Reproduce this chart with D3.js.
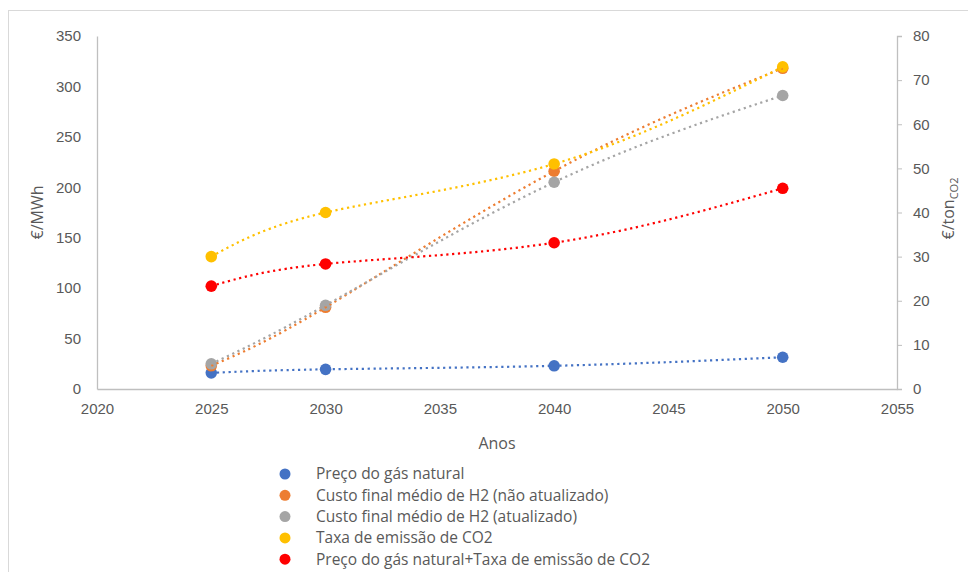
<!DOCTYPE html>
<html>
<head>
<meta charset="utf-8">
<script src="https://cdn.jsdelivr.net/npm/d3@7"></script>
<style>
  html, body { margin: 0; padding: 0; background: #fff; }
  svg { display: block; font-family: "Open Sans", "DejaVu Sans", sans-serif; }
  .tick-label { fill: #595959; font-size: 15px; }
  .axis-title { fill: #595959; font-size: 16px; }
  .legend-text { fill: #595959; font-size: 15.5px; }
</style>
</head>
<body>
<svg id="chart" width="968" height="572"></svg>
<script>
// Years on the horizontal axis
const years = [2025, 2030, 2040, 2050];

// €/MWh series (left axis)
const gasPrice = [16, 19.5, 23, 31.5];
const h2CostNotUpdated = [23, 81, 216, 318];
const h2CostUpdated = [25, 83, 205, 291];
const gasPlusCo2 = [102, 124, 145, 199];

// €/tonCO2 series (right axis)
const co2Tax = [30, 40, 51, 73];

// Axis ticks
const xTicks = [2020, 2025, 2030, 2035, 2040, 2045, 2050, 2055];
const yLeftTicks = [0, 50, 100, 150, 200, 250, 300, 350];
const yRightTicks = [0, 10, 20, 30, 40, 50, 60, 70, 80];

const seriesNames = [
  "Preço do gás natural",
  "Custo final médio de H2 (não atualizado)",
  "Custo final médio de H2 (atualizado)",
  "Taxa de emissão de CO2",
  "Preço do gás natural+Taxa de emissão de CO2"
];
const seriesColors = ["#4472C4", "#ED7D31", "#A5A5A5", "#FFC000", "#FF0000"];

const svg = d3.select("#chart");

// Outer chart frame
svg.append("rect")
  .attr("x", 8.5).attr("y", 10.5)
  .attr("width", 1000).attr("height", 600)
  .attr("fill", "#fff").attr("stroke", "#D9D9D9").attr("stroke-width", 1);

const x = d3.scaleLinear().domain([2020, 2055]).range([97, 897]);
const yL = d3.scaleLinear().domain([0, 350]).range([389, 36]);
const yR = d3.scaleLinear().domain([0, 80]).range([389, 36]);

const axisColor = "#BFBFBF";

// Bottom axis
const gx = svg.append("g").attr("transform", `translate(0,${yL(0)})`)
  .call(d3.axisBottom(x).tickValues(xTicks).tickFormat(d3.format("d")).tickSize(0).tickPadding(14));
// Left axis
const gl = svg.append("g").attr("transform", `translate(${x(2020)},0)`)
  .call(d3.axisLeft(yL).tickValues(yLeftTicks).tickSize(0).tickPadding(16));
// Right axis
const gr = svg.append("g").attr("transform", `translate(${x(2055)},0)`)
  .call(d3.axisRight(yR).tickValues(yRightTicks).tickSize(5).tickPadding(11));

[gx, gl, gr].forEach(g => {
  g.select(".domain").attr("stroke", axisColor).attr("stroke-width", 1.3);
  g.selectAll(".tick line").attr("stroke", axisColor);
  g.selectAll(".tick text").attr("class", "tick-label").attr("font-family", null).attr("font-size", null).attr("fill", null);
});
gx.selectAll(".tick text").attr("dy", "0.71em");

// Axis titles
svg.append("text").attr("class", "axis-title")
  .attr("x", 497).attr("y", 449).attr("text-anchor", "middle").text("Anos");

svg.append("text").attr("class", "axis-title")
  .attr("font-size", "17.5px")
  .attr("transform", `translate(43,${(yL(0) + yL(350)) / 2}) rotate(-90)`)
  .attr("text-anchor", "middle").text("€/MWh");

const rt = svg.append("text").attr("class", "axis-title")
  .attr("transform", `translate(954,${(yL(0) + yL(350)) / 2 - 4}) rotate(-90)`)
  .attr("text-anchor", "middle");
rt.append("tspan").text("€/ton");
rt.append("tspan").attr("font-size", "11px").attr("dy", "4").text("CO2");

// Series with the scale each is read against
const series = [
  { values: gasPrice, y: yL },
  { values: h2CostNotUpdated, y: yL },
  { values: h2CostUpdated, y: yL },
  { values: co2Tax, y: yR },
  { values: gasPlusCo2, y: yL }
].map((s, i) => ({ ...s, name: seriesNames[i], color: seriesColors[i],
  points: years.map((yr, j) => ({ year: yr, value: s.values[j] })) }));

// Markers
series.forEach(s => {
  svg.append("g").selectAll("circle").data(s.points).join("circle")
    .attr("cx", d => x(d.year)).attr("cy", d => s.y(d.value))
    .attr("r", 5.8).attr("fill", s.color);
});

// Dotted trend lines
series.forEach(s => {
  const line = d3.line().x(d => x(d.year)).y(d => s.y(d.value)).curve(d3.curveNatural);
  svg.append("path").datum(s.points)
    .attr("d", line).attr("fill", "none")
    .attr("stroke", s.color).attr("stroke-width", 2.2)
    .attr("stroke-dasharray", "2.2,3.6");
});

// Legend
const legend = svg.append("g");
seriesNames.forEach((name, i) => {
  const cy = 474 + i * 21.3;
  legend.append("circle").attr("cx", 285).attr("cy", cy).attr("r", 5.5).attr("fill", seriesColors[i]);
  legend.append("text").attr("class", "legend-text")
    .attr("x", 316).attr("y", cy).attr("dy", "0.35em").text(name);
});
</script>
</body>
</html>
